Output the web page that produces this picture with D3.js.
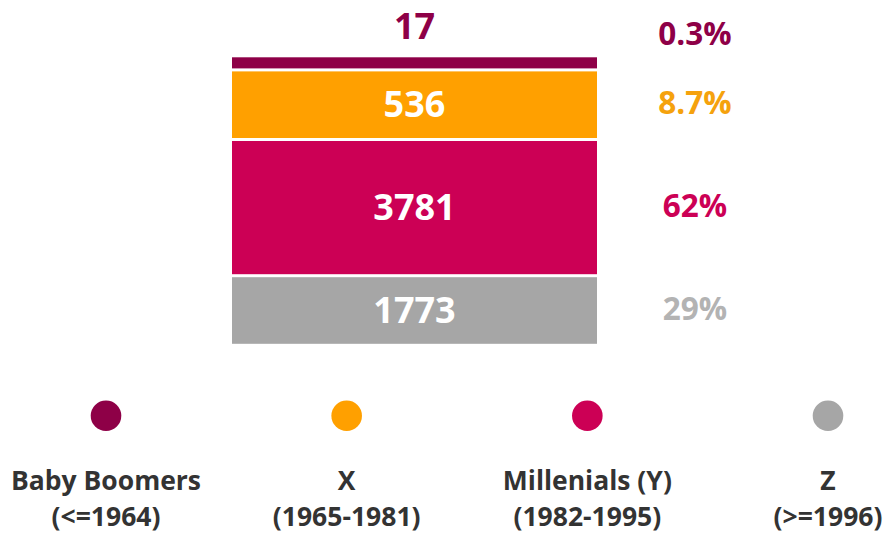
<!DOCTYPE html>
<html>
<head>
<meta charset="utf-8">
<script src="https://cdn.jsdelivr.net/npm/d3@7"></script>
<style>
  html, body { margin: 0; padding: 0; background: #fff; }
  svg { display: block; font-family: "Open Sans", sans-serif; font-weight: 700; }
</style>
</head>
<body>
<svg id="chart" width="892" height="533"></svg>
<script>
// generations, top to bottom in the stack
const generations = ["Baby Boomers", "X", "Millenials (Y)", "Z"];
const birthYears = ["(<=1964)", "(1965-1981)", "(1982-1995)", "(>=1996)"];
const counts = [17, 536, 3781, 1773];
const shares = ["0.3%", "8.7%", "62%", "29%"];
const colours = ["#8e0047", "#ffa000", "#cc0055", "#a6a6a6"];
const shareColours = ["#8e0047", "#f5a20d", "#cc0055", "#b3b3b3"];

const svg = d3.select("#chart");

// the bar isn't to scale: segments come in three sizes (small / medium / large)
const units = d3.scaleThreshold().domain([100, 2000]).range([1, 6, 12]);
const gap = 3;

const stack = [];
let acc = 0;
counts.forEach((c, i) => {
    stack.push({ i: i, u0: acc, u1: acc + units(c) });
    acc += units(c);
});

const x = d3.scaleBand().domain(["all"]).range([232, 597]);
const y = d3.scaleLinear().domain([0, acc]).range([57.3, 57.3 + acc * 11.1]);

const seg = svg.append("g")
    .selectAll("g")
    .data(stack)
    .enter()
    .append("g");

seg.append("rect")
    .attr("x", x("all"))
    .attr("width", x.bandwidth())
    .attr("y", (d) => y(d.u0) + d.i * gap)
    .attr("height", (d) => y(d.u1) - y(d.u0))
    .attr("fill", (d) => colours[d.i]);

const mid = (d) => (y(d.u0) + y(d.u1)) / 2 + d.i * gap;

// counts: inside the bar, or above it when the segment is too thin
seg.append("text")
    .attr("x", x("all") + x.bandwidth() / 2)
    .attr("y", (d) => (units(counts[d.i]) > 1 ? mid(d) : y(d.u0) - 31))
    .attr("dy", "0.35em")
    .attr("text-anchor", "middle")
    .attr("font-size", 36)
    .attr("fill", (d) => (units(counts[d.i]) > 1 ? "#fff" : colours[d.i]))
    .text((d) => counts[d.i]);

// shares on the right
seg.append("text")
    .attr("x", 695)
    .attr("y", (d) => (units(counts[d.i]) > 1 ? mid(d) - 1.5 : y(d.u0) - 23))
    .attr("dy", "0.35em")
    .attr("text-anchor", "middle")
    .attr("font-size", 31.5)
    .attr("fill", (d) => shareColours[d.i])
    .text((d) => shares[d.i]);

// legend
const lx = d3.scalePoint().domain(generations).range([106, 828]);
const legend = svg.append("g")
    .selectAll("g")
    .data(generations)
    .enter()
    .append("g")
    .attr("transform", (d) => `translate(${lx(d)},0)`);

legend.append("circle")
    .attr("cy", 415.7)
    .attr("r", 15.3)
    .attr("fill", (d, i) => colours[i]);

legend.append("text")
    .attr("y", 490)
    .attr("text-anchor", "middle")
    .attr("font-size", 26.5)
    .attr("fill", "#333")
    .text((d) => d);

legend.append("text")
    .attr("y", 525.5)
    .attr("text-anchor", "middle")
    .attr("font-size", 26.5)
    .attr("fill", "#333")
    .text((d, i) => birthYears[i]);
</script>
</body>
</html>
